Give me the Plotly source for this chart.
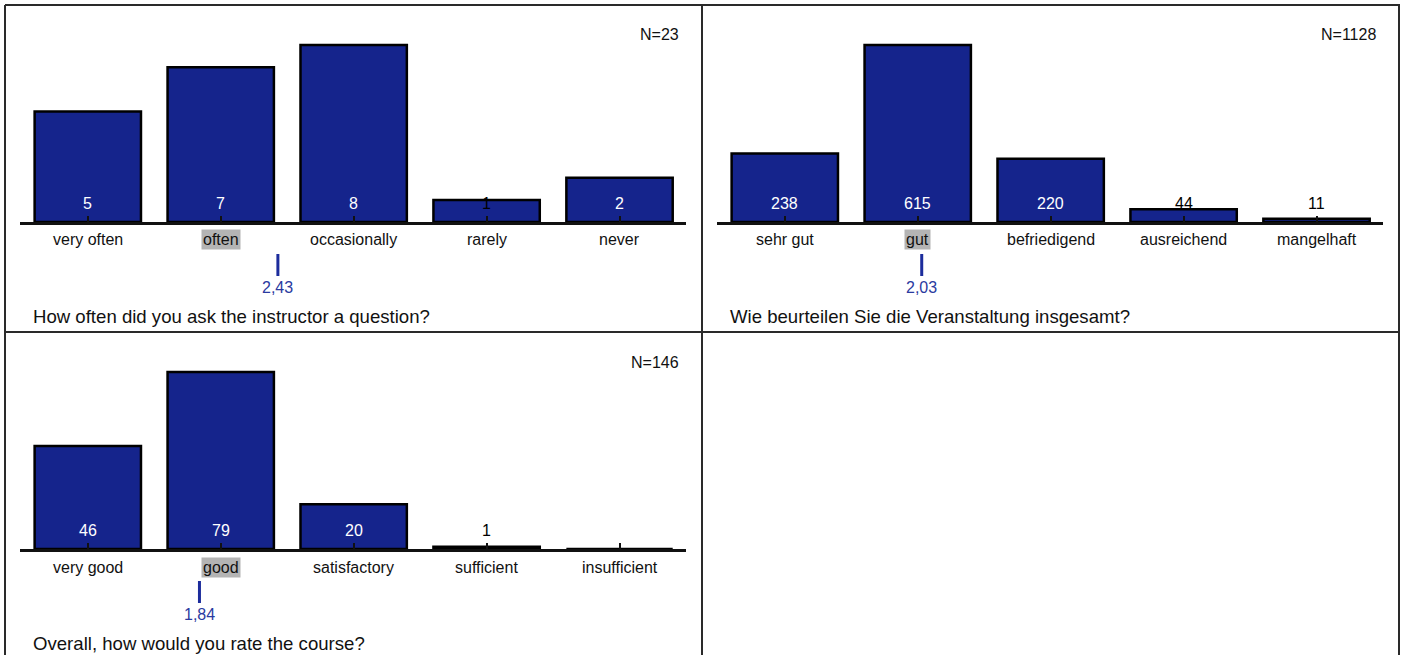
import plotly.graph_objects as go

# ---------------- data ----------------
q1_categories = ["very often", "often", "occasionally", "rarely", "never"]
q1_counts = [5, 7, 8, 1, 2]
q1_mean = 2.43
q1_n = 23
q1_title = "How often did you ask the instructor a question?"

q2_categories = ["sehr gut", "gut", "befriedigend", "ausreichend", "mangelhaft"]
q2_counts = [238, 615, 220, 44, 11]
q2_mean = 2.03
q2_n = 1128
q2_title = "Wie beurteilen Sie die Veranstaltung insgesamt?"

q3_categories = ["very good", "good", "satisfactory", "sufficient", "insufficient"]
q3_counts = [46, 79, 20, 1, 0]
q3_mean = 1.84
q3_n = 146
q3_title = "Overall, how would you rate the course?"

panels = [
    (q1_categories, q1_counts, q1_mean, q1_n, q1_title),
    (q2_categories, q2_counts, q2_mean, q2_n, q2_title),
    (q3_categories, q3_counts, q3_mean, q3_n, q3_title),
]

# ---------------- style ----------------
W, H = 1404, 655
FONT = "Liberation Sans, Arial, sans-serif"
BAR_COLOR = "#15248c"
MEAN_COLOR = "#1c2c9c"
MEAN_TEXT = "#2a3aa0"
MEDIAN_BG = "#b4b4b4"
offsets = [(0, 0), (697, 0), (0, 327)]


def px(x):
    return x / W


def py(y):
    return 1 - y / H


fig = go.Figure()
annotations = []
shapes = []

for i, ((cats, counts, mean, n, title), (dx, dy)) in enumerate(zip(panels, offsets)):
    k = "" if i == 0 else str(i + 1)
    xa, ya = "x" + k, "y" + k
    xs = list(range(1, len(cats) + 1))
    vmax = max(counts)

    fig.add_trace(go.Bar(
        x=xs, y=counts, xaxis=xa, yaxis=ya, width=0.8,
        marker=dict(color=BAR_COLOR, line=dict(color="black", width=2.5)),
        hoverinfo="skip", showlegend=False,
    ))

    fig.update_layout(**{
        "xaxis" + k: dict(
            domain=[px(20 + dx), px(686 + dx)], range=[0.49, 5.5],
            anchor=ya, showgrid=False, zeroline=False, showline=True,
            linecolor="#111", linewidth=2.5, ticks="inside", ticklen=6,
            tickwidth=2, tickcolor="#111", tickvals=xs, showticklabels=False,
            fixedrange=True,
        ),
        "yaxis" + k: dict(
            domain=[py(222 + dy), py(40 + dy)], range=[0, vmax * 182 / 177],
            anchor=xa, visible=False, showgrid=False, zeroline=False,
            fixedrange=True,
        ),
    })

    # median category
    total = sum(counts)
    cum = 0
    median_idx = 0
    for j, c in enumerate(counts):
        cum += c
        if cum >= total / 2:
            median_idx = j
            break

    for j, (cat, c) in enumerate(zip(cats, counts)):
        if c > 0:
            annotations.append(dict(
                x=xs[j], xref=xa, y=py(203 + dy), yref="paper",
                text=str(c), showarrow=False, xanchor="center", yanchor="middle",
                font=dict(family=FONT, size=16,
                          color="white" if c / vmax > 0.15 else "black"),
            ))
        ann = dict(
            x=xs[j], xref=xa, y=py(240 + dy), yref="paper",
            text=cat, showarrow=False, xanchor="center", yanchor="middle",
            font=dict(family=FONT, size=16, color="#111"),
        )
        if j == median_idx:
            ann.update(bgcolor=MEDIAN_BG, borderpad=1)
        annotations.append(ann)

    # mean marker
    shapes.append(dict(
        type="line", xref=xa, yref="paper", x0=mean, x1=mean,
        y0=py(254 + dy), y1=py(276 + dy),
        line=dict(color=MEAN_COLOR, width=3),
    ))
    annotations.append(dict(
        x=mean, xref=xa, y=py(287 + dy), yref="paper",
        text=f"{mean:.2f}".replace(".", ","), showarrow=False,
        xanchor="center", yanchor="middle",
        font=dict(family=FONT, size=16, color=MEAN_TEXT),
    ))

    # N
    annotations.append(dict(
        x=px(681 + dx), xref="paper", y=py(35 + dy), yref="paper",
        text=f"N={n}", showarrow=False, xanchor="right", yanchor="middle",
        font=dict(family=FONT, size=16, color="#111"),
    ))
    # title
    annotations.append(dict(
        x=px(31 + dx), xref="paper", y=py(316 + dy), yref="paper",
        text=title, showarrow=False, xanchor="left", yanchor="middle",
        font=dict(family=FONT, size=18.6, color="#111"),
    ))

# frame lines
frame = [
    (5, 5, 1400, 5),
    (5, 5, 5, 700),
    (702, 5, 702, 700),
    (1399, 5, 1399, 700),
    (5, 332, 1400, 332),
]
for x0, y0, x1, y1 in frame:
    shapes.append(dict(
        type="line", xref="paper", yref="paper",
        x0=px(x0), x1=px(x1), y0=py(y0), y1=py(y1),
        line=dict(color="#2a2a2a", width=2),
    ))

fig.update_layout(
    width=W, height=H, margin=dict(l=0, r=0, t=0, b=0),
    paper_bgcolor="white", plot_bgcolor="rgba(0,0,0,0)",
    annotations=annotations, shapes=shapes, showlegend=False,
    font=dict(family=FONT),
)

fig.write_html(
    "out.html",
    config={"displayModeBar": False},
    post_script="document.body.style.margin='0';document.body.style.overflow='hidden';",
)
